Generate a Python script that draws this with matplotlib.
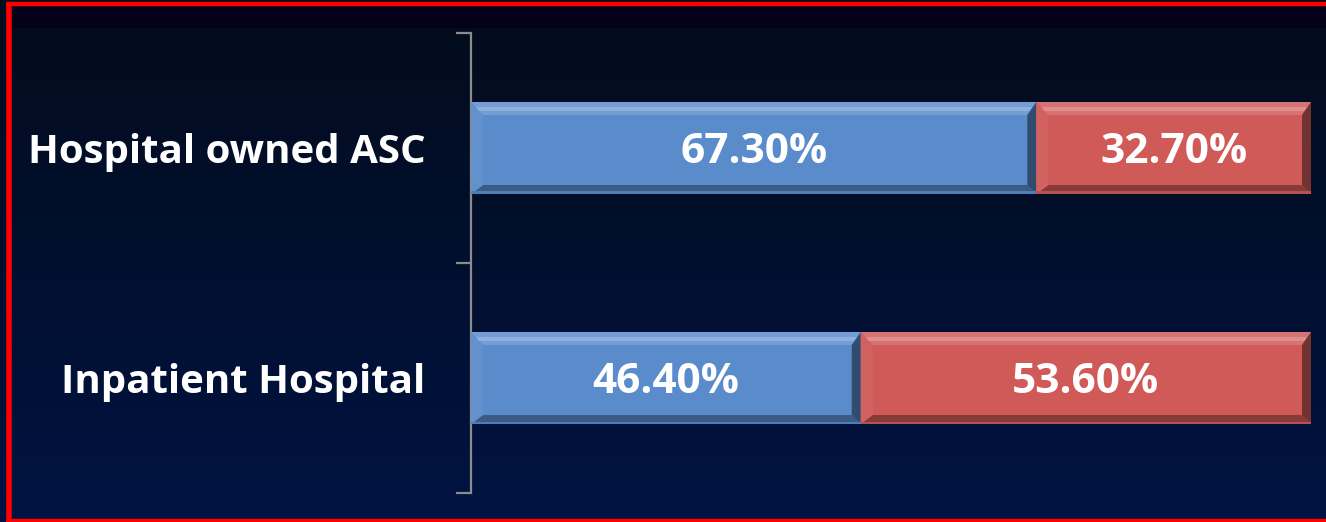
import numpy as np
import matplotlib.pyplot as plt
from matplotlib.patches import Polygon, Rectangle
from matplotlib.lines import Line2D
from matplotlib.colors import to_rgb
from matplotlib.transforms import offset_copy

# ============================================================
# Data
# ============================================================
categories = ["Inpatient Hospital", "Hospital owned ASC"]
share_a = [46.40, 67.30]   # blue segment (%)
share_b = [53.60, 32.70]   # red segment (%)

BLUE = "#5a8bcb"
RED = "#cf5a58"
FONT = "Open Sans"

W, H = 1326, 522
fig = plt.figure(figsize=(W / 100, H / 100), dpi=100)
fig.patch.set_facecolor("#020c22")

# ============================================================
# Background: dark navy gradient + red frame
# ============================================================
bg = fig.add_axes([0, 0, 1, 1], zorder=-10)
top = np.array(to_rgb("#030c1c"))
bot = np.array(to_rgb("#001342"))
t = np.linspace(0, 1, 256)[:, None]
grad = (top * (1 - t) + bot * t)[:, None, :]
bg.imshow(grad, aspect="auto", extent=[0, 1, 0, 1])
bg.add_patch(Rectangle((11 / W, 1 - 28 / H), 1, 22 / H, color="#03021a", lw=0))
bg.set_xlim(0, 1)
bg.set_ylim(0, 1)
bg.axis("off")

red = "#ff0000"
fig.add_artist(Line2D([8.5 / W, 8.5 / W], [0, 1 - 2 / H], color=red, lw=4,
                      solid_capstyle="butt"))
fig.add_artist(Line2D([6 / W, 1], [1 - 4 / H, 1 - 4 / H], color=red, lw=3.2,
                      solid_capstyle="butt"))
fig.add_artist(Line2D([6 / W, 1], [1.5 / H, 1.5 / H], color=red, lw=3.2,
                      solid_capstyle="butt"))

# ============================================================
# Chart axes
# ============================================================
ax = fig.add_axes([471 / W, 29 / H, (1311 - 471) / W, (493 - 33) / H])
ax.set_facecolor("none")
ypos = np.arange(len(categories))
bars_a = ax.barh(ypos, np.array(share_a) / 100, height=0.4, color=BLUE, zorder=2)
bars_b = ax.barh(ypos, np.array(share_b) / 100, left=np.array(share_a) / 100,
                 height=0.4, color=RED, zorder=2)
ax.set_xlim(0, 1)
ax.set_ylim(-0.5, len(categories) - 0.5)

for s in ["top", "right", "bottom"]:
    ax.spines[s].set_visible(False)
ax.spines["left"].set_color("#8c8c8c")
ax.spines["left"].set_linewidth(1.6)
ax.set_xticks([])
ax.set_yticks(np.arange(-0.5, len(categories)), labels=[])
ax.tick_params(axis="y", which="major", length=11, width=1.6, color="#8c8c8c")
ax.set_yticks(ypos, labels=categories, minor=True)
ax.tick_params(axis="y", which="minor", length=0, pad=33, labelcolor="white",
               labelsize=29)
for lab in ax.get_yticklabels(minor=True):
    lab.set_fontfamily(FONT)
    lab.set_fontweight("bold")


# ============================================================
# Bevel effect on each bar segment
# ============================================================
def shade(c, k):
    c = np.array(to_rgb(c))
    return tuple(c + (1 - c) * k) if k > 0 else tuple(c * (1 + k))


fig.canvas.draw()
inv = ax.transData.inverted()
for bars, col in [(bars_a, BLUE), (bars_b, RED)]:
    for p in bars:
        x0, y0 = ax.transData.transform((p.get_x(), p.get_y()))
        x1, y1 = ax.transData.transform((p.get_x() + p.get_width(),
                                         p.get_y() + p.get_height()))
        bt, bb, bl, br = 13, 9, 12, 9
        faces = [
            ([(x0, y1), (x1, y1), (x1 - br, y1 - bt), (x0 + bl, y1 - bt)], shade(col, 0.16)),
            ([(x0, y0), (x1, y0), (x1 - br, y0 + bb), (x0 + bl, y0 + bb)], shade(col, -0.35)),
            ([(x0, y0), (x0, y1), (x0 + bl, y1 - bt), (x0 + bl, y0 + bb)], shade(col, 0.05)),
            ([(x1, y0), (x1, y1), (x1 - br, y1 - bt), (x1 - br, y0 + bb)], shade(col, -0.45)),
        ]
        for pts, fc in faces:
            ax.add_patch(Polygon(inv.transform(pts), closed=True, fc=fc,
                                 ec="none", zorder=3))
        # soft highlight band under the top edge
        hl = [(x0 + 5, y1 - 5), (x1 - 4, y1 - 5), (x1 - 7, y1 - 9), (x0 + 8, y1 - 9)]
        ax.add_patch(Polygon(inv.transform(hl), closed=True,
                             fc=shade(col, 0.32), ec="none", zorder=3))
        # pale reflection line at the bottom edge
        rl = [(x0, y0), (x1, y0), (x1, y0 + 2.5), (x0, y0 + 2.5)]
        ax.add_patch(Polygon(inv.transform(rl), closed=True,
                             fc=shade(col, -0.1), ec="none", zorder=3))

# ============================================================
# Value labels
# ============================================================
txt_tr = offset_copy(ax.transData, fig=fig, x=0, y=-3, units="points")
for bars, vals in [(bars_a, share_a), (bars_b, share_b)]:
    for p, v in zip(bars, vals):
        ax.text(p.get_x() + p.get_width() / 2, p.get_y() + p.get_height() / 2,
                f"{v:.2f}%", ha="center", va="center", color="white",
                fontsize=30.5, fontweight="bold", fontfamily=FONT, zorder=5,
                transform=txt_tr)

fig.savefig("out.png", dpi=100, facecolor=fig.get_facecolor())
